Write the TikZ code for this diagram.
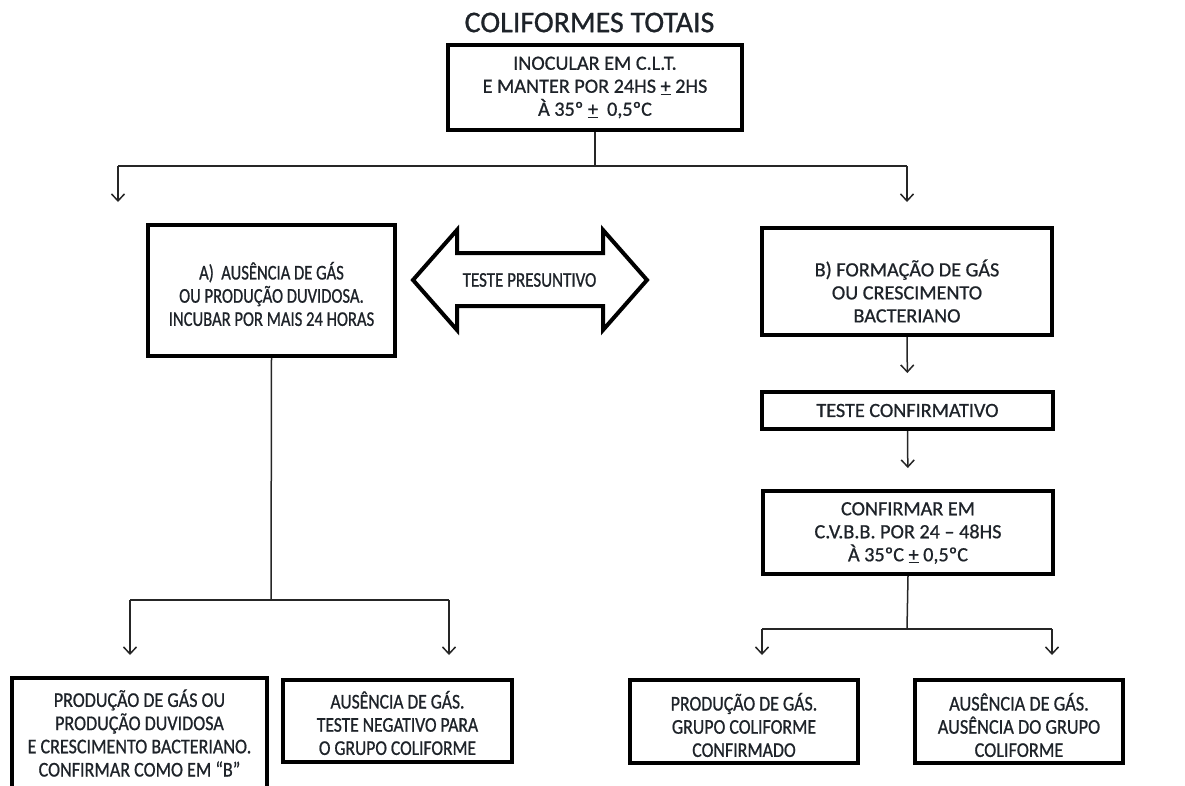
\documentclass[tikz,border=0pt]{standalone}
\usepackage{fontspec}
\setmainfont{Carlito}
\usetikzlibrary{arrows.meta}
\definecolor{txtc}{HTML}{1E2329}
\begin{document}
\begin{tikzpicture}[x=1pt,y=-1pt,
  frame/.style={draw=black, line width=4pt, inner sep=0pt},
  tx/.style={align=center, text=txtc, inner sep=0pt,
    font={\fontsize{20.2}{23}\selectfont\addfontfeatures{FakeBold=0.8}}},
  cx/.style={align=center, text=txtc, inner sep=0pt,
    font={\fontsize{21}{23.2}\selectfont\addfontfeatures{FakeStretch=#1,FakeBold=0.8}}},
  conn/.style={line width=1.5pt, draw=black!85},
  arr/.style={conn, -{Straight Barb[length=7pt,width=13pt,line width=1.5pt]}}]
\useasboundingbox (0,0) rectangle (1185,785);
\clip (0,0) rectangle (1185,785);

\node[text=txtc, inner sep=0pt, font={\fontsize{30}{34}\selectfont\addfontfeatures{FakeBold=0.8}}] (title) at (589.5,22.5) {COLIFORMES TOTAIS};

% boxes
\node[frame, minimum width=294pt, minimum height=85pt] (top) at (595,87.5) {};
\node[frame, minimum width=247pt, minimum height=131pt] (A) at (271.5,290.5) {};
\node[frame, minimum width=290pt, minimum height=107pt] (B) at (907,281.5) {};
\node[frame, minimum width=291pt, minimum height=37pt] (TC) at (907.5,410.5) {};
\node[frame, minimum width=290pt, minimum height=83pt] (CF) at (908,532.5) {};
\node[frame, minimum width=255pt, minimum height=112pt] (L1) at (139.5,734) {};
\node[frame, minimum width=229pt, minimum height=82pt] (L2) at (397.5,721) {};
\node[frame, minimum width=228pt, minimum height=83pt] (R1) at (744,721.5) {};
\node[frame, minimum width=208pt, minimum height=83pt] (R2) at (1019,721.5) {};

% texts
\node[tx] (topt) at (595,87.5)
  {INOCULAR EM C.L.T.\\E MANTER POR 24HS \underline{+} 2HS\\À 35º \underline{+}\ \ 0,5ºC};
\node[cx=0.79] (At) at (271.5,294)
  {A)\ \ AUSÊNCIA DE GÁS\\OU PRODUÇÃO DUVIDOSA.\\INCUBAR POR MAIS 24 HORAS};
\node[tx] (Bt) at (907,291)
  {B) FORMAÇÃO DE GÁS\\OU CRESCIMENTO\\BACTERIANO};
\node[tx] (TCt) at (907.5,410.5) {TESTE CONFIRMATIVO};
\node[tx] (CFt) at (908,533)
  {CONFIRMAR EM\\C.V.B.B. POR 24 – 48HS\\À 35ºC \underline{+} 0,5ºC};
\node[cx=0.86] (L1t) at (139.5,733)
  {PRODUÇÃO DE GÁS OU\\PRODUÇÃO DUVIDOSA\\E CRESCIMENTO BACTERIANO.\\CONFIRMAR COMO EM “B”};
\node[cx=0.835] (L2t) at (397.5,723)
  {AUSÊNCIA DE GÁS.\\TESTE NEGATIVO PARA\\O GRUPO COLIFORME};
\node[cx=0.85] (R1t) at (744,725)
  {PRODUÇÃO DE GÁS.\\GRUPO COLIFORME\\CONFIRMADO};
\node[cx=0.87] (R2t) at (1019,725)
  {AUSÊNCIA DE GÁS.\\AUSÊNCIA DO GRUPO\\COLIFORME};

% double arrow
\draw[line width=4pt, line join=miter, fill=white]
  (413,280) -- (457,230) -- (457,253) -- (603,253) -- (603,230) -- (647,280)
  -- (603,330) -- (603,306) -- (457,306) -- (457,330) -- cycle;
\node[cx=0.81] (tp) at (529.5,280) {TESTE PRESUNTIVO};

% top branch
\coordinate (j1) at (595,166);
\coordinate (j1l) at (118,166);
\coordinate (j1r) at (907,166);
\coordinate (ta) at (118,202);
\coordinate (tb) at (907,202);
\draw[conn] (top.south) -- (j1);
\draw[conn] (j1l) -- (j1r);
\draw[arr] (j1l) -- (ta);
\draw[arr] (j1r) -- (tb);

% left branch
\coordinate (j2) at (271,600);
\coordinate (j2l) at (130,600);
\coordinate (j2r) at (449,600);
\coordinate (la) at (130,655);
\coordinate (lb) at (449,655);
\draw[conn] (A.south) -- (j2);
\draw[conn] (j2l) -- (j2r);
\draw[arr] (j2l) -- (la);
\draw[arr] (j2r) -- (lb);

% right column
\draw[arr, shorten >=17pt] (B.south) -- (TC.north);
\draw[arr, shorten >=21pt] (TC.south) -- (CF.north);

\coordinate (j3) at (907,629);
\coordinate (j3l) at (762,629);
\coordinate (j3r) at (1052,629);
\coordinate (ra) at (762,655);
\coordinate (rb) at (1052,655);
\draw[conn] (CF.south) -- (j3);
\draw[conn] (j3l) -- (j3r);
\draw[arr] (j3l) -- (ra);
\draw[arr] (j3r) -- (rb);
\end{tikzpicture}
\end{document}
